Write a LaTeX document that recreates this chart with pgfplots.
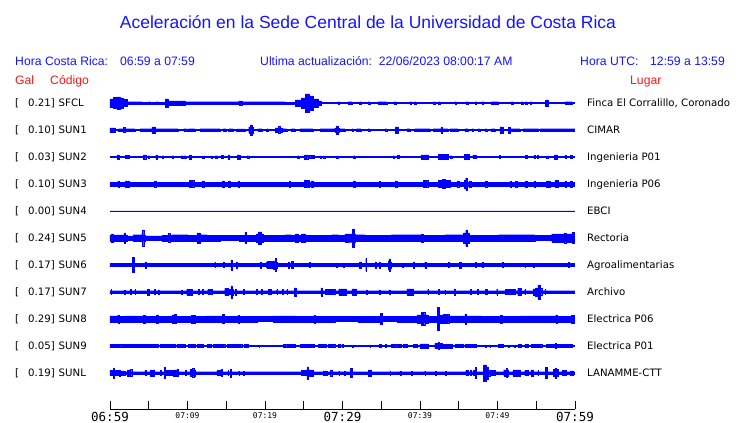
\documentclass[border=0pt]{standalone}
\usepackage{pgfplots}
\pgfplotsset{compat=1.18}
\usepackage{pgfplotstable}
\usepgfplotslibrary{fillbetween}
\usepackage{fontspec}
\setmainfont{Liberation Sans}
\newfontfamily\dejavu{DejaVu Sans}
\newfontfamily\dmono{DejaVu Sans Mono}
\definecolor{tr}{RGB}{0,0,255}
\definecolor{tb}{RGB}{20,20,255}
\definecolor{tred}{RGB}{255,20,20}

% half-amplitude envelopes (px) of each trace, time in minutes after 06:59
\pgfplotstableread{
t a
0 4
0.4 5.5
0.9 6
1.3 5
1.7 3.5
2.2 1.3
4.1 0.9
5.0 1.3
5.2 0.9
6.0 1.3
6.2 0.9
7.1 4
7.5 2.2
9.7 1.3
16.6 2.2
17.0 1.3
22.6 0.9
23.9 3
24.7 5
25.2 9
25.7 7
26.2 4
26.9 2
27.3 0.5
29.4 1.3
29.6 0.5
30.7 1.3
31.2 0.5
32.2 1.3
32.4 0.5
33.3 1.3
33.5 0.5
34.6 1.3
35.7 0.5
36.7 1.3
36.9 0.5
38.7 1.3
38.9 0.5
39.3 1.3
39.5 0.5
41.7 1.3
41.9 0.5
42.4 1.3
42.6 0.5
44.5 1.3
44.7 0.5
46.0 1.3
46.2 0.5
47.1 1.3
47.3 0.5
48.0 1.3
48.2 0.5
49.2 1.3
50.1 0.5
51.8 1.3
52.0 0.5
53.1 1.3
53.3 0.5
53.6 1.3
53.8 0.5
54.2 1.3
54.4 0.5
56.2 3
56.5 0.5
58.7 1.3
59.6 0.5
60 0.5
}\sfcl

\pgfplotstableread{
t a
0 2
0.7 0.4
1.1 1.3
1.7 2.5
1.9 1.3
3.2 0.4
3.9 1.3
5.4 3
5.8 1.3
8.8 0.4
9.5 1.3
9.9 0.4
10.1 1.3
11.0 0.4
11.6 1.3
14.2 0.4
14.6 1.3
15.0 0.4
15.3 1.3
15.9 0.4
16.3 1
17.4 0.4
17.9 3
18.1 5
18.3 3
18.5 0.4
19.1 1.3
19.6 0.4
20.2 1.3
20.4 0.4
21.3 2
21.7 3.5
21.9 2
22.2 1.3
22.8 0.4
23.4 1.3
23.9 0.4
24.5 1.3
26.2 0.4
27.1 1.3
29.0 2
29.2 4
29.4 2
29.5 1.3
30.3 0.4
31.2 1.3
31.4 0.4
31.8 1.3
32.4 0.4
33.3 1.3
33.5 0.4
35.5 1.3
35.7 0.4
36.8 3
37.2 0.4
38.3 1.3
38.7 0.4
39.3 1.3
41.3 0.4
41.7 1.3
42.7 3
42.9 1.3
43.6 0.4
43.9 1.3
44.9 0.4
45.8 1.3
46.2 0.4
46.7 1.3
46.9 0.4
47.5 1.3
47.7 0.4
48.4 1.3
48.6 0.4
49.2 1.3
49.7 0.4
50.3 3
50.7 0.4
51.4 3
51.6 1.3
52.9 0.4
53.3 1.3
55.3 0.4
55.5 1.3
60 1.3
}\sunone

\pgfplotstableread{
t a
0 0.4
0.9 2
1.2 0.4
2.0 1.5
2.5 0.4
4.3 2
4.6 0.4
4.9 1.3
5.1 0.4
5.9 2
6.1 0.4
6.7 1.3
6.9 0.4
8.0 1.3
8.2 0.4
9.2 1.3
9.4 0.4
9.6 1.3
9.8 0.4
10.2 2
10.5 0.4
11.9 1
12.1 0.4
13.0 1
13.2 0.4
13.6 1.3
13.8 0.4
14.4 1.5
14.6 0.4
15.2 2
15.4 0.4
16.4 2.2
16.8 0.4
17.7 1.3
17.9 0.4
24.2 1.3
24.4 0.4
25.1 2.2
25.5 0.4
25.7 1.5
25.9 0.4
26.1 1.5
26.3 0.4
27.1 1
27.3 0.4
27.5 1
27.7 0.4
29.2 1
29.4 0.4
31.4 1.3
31.6 0.4
36.5 1.3
36.7 0.4
37.1 1.5
37.3 0.4
40.1 2
41.1 0.4
42.4 2.5
43.6 0.4
43.9 1.3
44.1 0.4
45.7 2.5
46.4 0.4
46.8 1.5
47.0 0.4
47.1 1.5
47.3 0.4
50.2 1.5
50.4 0.4
53.6 1.5
53.8 0.4
54.7 1.5
54.9 0.4
55.1 1.5
55.3 0.4
56.3 1
56.5 0.4
57.3 2.2
57.7 0.4
58.7 1.5
58.9 0.4
59.4 1.5
59.6 0.4
60 0.4
}\suntwo

\pgfplotstableread{
t a
0 1.8
1.0 3
1.2 1.8
2.0 3
2.2 1.8
2.3 3
2.5 1.8
5.7 3
5.9 1.8
10.2 3.5
10.8 1.8
11.9 3
12.1 1.8
14.5 3
14.7 1.8
15.3 3
15.5 1.8
16.5 3
16.7 1.8
23.1 3
23.3 1.8
25.1 3.5
25.7 1.8
26.0 3.2
26.2 1.8
31.4 3.2
31.6 1.8
34.7 2.8
34.9 1.8
36.8 3
37.1 1.8
40.4 3.5
41.0 1.8
42.4 3.5
42.9 4.5
43.2 3.5
43.9 1.8
44.8 3
45.0 1.8
45.7 4
45.9 6
46.1 1.8
46.4 3
46.6 1.8
48.4 2.8
48.6 1.8
51.6 2.8
51.8 1.8
52.3 2.8
52.5 1.8
53.6 2.8
53.8 1.8
54.7 3
54.9 1.8
56.3 3
56.8 1.8
57.4 3.5
57.8 1.8
58.7 3
58.9 1.8
59.4 3
59.6 1.8
60 1.8
}\sunthree

\pgfplotstableread{
t a
0 0.2
60 0.2
}\sunfour

\pgfplotstableread{
t a
0 3
0.2 4
0.4 3
1.8 5
2.0 3
2.2 2.2
3.0 3.3
4.1 5
4.15 8
4.35 3.3
4.5 2.2
6.7 2.8
7.5 4.5
7.7 2.8
8.0 3.3
10.1 2.8
11.2 5
11.6 3.3
12.5 2.8
14.2 2.4
16.6 2.8
17.4 5.5
17.6 2.8
18.7 2.4
18.9 4
19.1 6
19.5 4
19.8 2.8
22.6 3.3
23.4 2.8
23.9 4
24.3 2.8
24.7 4
25.2 2.8
28.6 3.3
29.5 2.8
30.3 4
31.2 4
31.3 9
31.5 4
31.6 3.3
32.9 2.8
36.3 3.3
40.2 4
40.4 2.8
43.2 3.3
45.6 5
45.9 8
46.1 5
46.4 2.8
50.1 3.3
54.8 2.4
57.0 4
58.6 5
58.8 4
59.6 5.5
60 5.5
}\sunfive

\pgfplotstableread{
t a
0 1.6
2.9 7.5
3.1 1.6
4.5 3
4.7 1.6
13.5 2.5
13.6 1.6
14.6 2.5
14.7 1.6
15.6 5
15.8 1.6
16.3 3
16.4 1.6
19.4 3
19.5 1.6
20.1 2.5
20.3 3.5
21.1 4
21.3 6.5
21.4 3
21.6 1.6
23.0 3
23.1 1.6
23.4 3.5
23.6 1.6
25.7 2.5
25.8 1.6
29.2 2.2
29.3 1.6
30.1 2.2
30.2 1.6
32.2 3
32.4 1.6
33.0 6.5
33.1 1.6
34.2 3
34.3 1.6
34.7 3
34.8 1.6
35.9 4
36.0 6
36.2 3
36.3 1.6
37.7 2.2
37.8 1.6
39.1 3
39.2 1.6
40.6 3
40.8 1.6
43.6 2.5
43.7 1.6
45.1 3
45.3 1.6
47.1 2.5
47.2 1.6
48.0 2.5
48.1 1.6
50.6 2.5
50.7 1.6
53.5 2.2
53.6 1.6
54.6 2.2
54.7 1.6
59.1 2.5
59.2 1.6
60 1.6
}\sunsix

\pgfplotstableread{
t a
0 1.3
0.1 2.5
0.2 1.3
1.8 2.2
1.9 1.3
2.6 2.5
2.7 1.3
3.2 2.5
3.3 1.3
4.8 2.8
5.1 1.3
5.7 2.5
5.8 1.3
6.2 2.2
6.3 1.3
9.2 2.2
9.3 1.3
9.9 2.8
10.6 1.3
11.4 2.5
11.5 1.3
11.9 2.5
12.0 1.3
12.6 2.5
13.2 1.3
14.8 3.5
15.3 2.5
15.6 6
15.8 3
15.9 1.3
16.2 2.8
16.3 1.3
17.2 2.5
17.3 1.3
18.9 2.5
19.0 1.3
19.5 2.5
19.6 1.3
20.4 2.5
20.5 1.3
20.7 2.5
20.8 1.3
21.5 2.5
21.6 1.3
22.2 2.5
22.3 1.3
22.8 2.5
22.9 1.3
23.8 4
24.0 1.3
27.2 4
27.4 1.3
27.8 2.5
29.0 1.3
29.5 3
30.5 1.3
31.2 3
31.8 1.3
33.1 2.2
33.2 1.3
34.7 2.2
34.8 1.3
36.0 2.2
36.1 1.3
38.3 3
39.1 1.3
41.0 2.5
41.1 1.3
42.4 2.5
42.5 1.3
43.2 2.2
43.3 1.3
44.4 3
44.5 1.3
46.5 2.5
46.6 1.3
47.4 2.5
47.5 1.3
48.4 2.5
48.7 1.3
49.9 3
50.0 1.3
51.0 2.5
52.3 1.3
52.6 3.5
53.1 1.3
53.5 2.5
53.6 1.3
54.6 3
54.9 4
55.2 7
55.5 3.5
55.7 1.3
56.1 2.5
56.2 1.3
60 1.3
}\sunseven

\pgfplotstableread{
t a
0 3
1.0 4
1.2 2.8
2.0 3.1
4.3 3.8
4.5 2.8
6.0 4
6.2 2.8
8.0 4
8.3 4.5
8.5 2.8
10.5 3.8
11.0 2.8
12.5 3.1
14.5 4.5
14.7 2.8
16.5 3.8
16.7 2.8
19.0 2.5
21.0 3
24.0 2.8
26.3 3.8
26.5 2.8
29.0 2.5
32.0 2.8
34.9 5.5
35.1 2.5
37.0 2.8
39.6 4
40.2 6.5
40.6 4
41.1 2.8
42.2 11.5
42.5 4
43.0 4.5
43.7 3
45.8 5
46.0 3
48.0 2.8
50.4 3.8
50.6 2.8
53.0 3.1
57.5 4.2
57.7 2.8
59.5 3.8
60 3.8
}\suneight

\pgfplotstableread{
t a
0 1.6
1.5 0.4
1.7 1.6
4.1 0.4
4.3 1.6
6.2 0.4
6.5 1.6
8.4 0.4
8.6 1.6
9.7 0.4
10.1 1.6
11.0 0.4
11.2 1.6
12.0 0.4
12.5 1.6
13.1 0.4
13.3 1.6
14.2 0.4
14.4 1.6
14.8 0.4
15.1 1.6
16.1 0.4
16.3 1.6
17.0 0.4
17.3 1.6
17.8 0.4
19.2 1
19.3 0.4
22.4 1.5
22.8 0.4
23.0 1.6
23.9 0.4
24.5 1.6
26.4 0.4
26.9 1.6
27.9 0.4
28.2 1.6
29.0 0.4
29.4 1.6
29.7 0.4
29.9 1.6
30.1 0.4
31.3 1.2
31.4 0.4
33.5 1.2
33.6 0.4
34.7 1.6
35.0 0.4
35.5 1.5
35.6 0.4
36.3 1.6
37.0 0.4
37.2 1.6
37.6 0.4
37.8 1.6
38.3 0.4
39.1 1.6
39.6 0.4
40.0 2
41.1 0.4
41.9 2.5
42.3 3.5
42.5 2.5
42.8 1.8
44.1 0.4
44.5 1.6
45.6 0.4
45.8 1.6
46.7 0.4
46.9 1.6
47.3 0.4
48.4 1.2
48.5 0.4
49.0 1.2
49.1 0.4
50.1 1.6
50.7 0.4
51.4 1.2
51.5 0.4
52.2 1.2
52.3 0.4
52.7 1.6
53.1 0.4
53.5 1.6
54.0 0.4
54.4 1.6
55.7 0.4
56.3 1.6
57.4 2.5
57.6 1.6
59.6 0.4
60 0.4
}\sunnine

\pgfplotstableread{
t a
0 2.5
0.4 5
0.5 2.5
1.2 3
1.3 2
1.9 1.3
2.2 3
2.6 3.5
2.8 1.3
4.5 2.5
4.6 1.3
5.2 3
5.7 1.3
6.5 2.5
6.6 1.3
7.0 5.5
7.1 1.3
7.3 2.5
8.0 1.3
8.2 3
8.7 3.5
8.8 1.3
9.7 2.5
9.8 1.3
10.4 3.5
10.6 4.5
10.8 3
11.0 1.3
13.8 2.5
14.2 1.3
14.4 3.5
14.5 1.3
15.2 2.5
15.3 1.3
15.5 4
15.6 1.3
16.6 2
16.7 1.3
17.2 2.2
17.3 1.3
24.7 2.5
25.4 6
25.6 3
26.2 1.3
27.5 2.2
28.0 1.3
28.4 3
28.6 1.3
29.5 2
29.6 1.3
30.2 2
30.3 1.3
31.0 4.5
31.2 1.3
33.3 3
33.7 1.3
36.1 2
36.2 1.3
37.4 2
37.5 1.3
38.9 2
39.0 1.3
40.6 2
40.7 1.3
42.0 2
42.1 1.3
43.3 2
43.4 1.3
45.9 2.5
46.2 1.3
46.5 2.5
46.6 1.3
46.9 2.5
47.1 5.5
47.3 1.3
48.2 8
48.5 6
48.8 3
49.0 1.3
49.2 2.5
49.7 1.3
50.8 3
51.1 4.5
51.3 3
51.4 1.3
52.0 3
52.9 1.3
53.5 2.5
54.0 1.3
54.3 3
54.6 1.3
55.2 2.5
55.3 1.3
56.2 5.5
56.4 1.3
57.2 3.5
57.4 5
57.5 3.5
57.8 1.3
58.3 2.5
58.9 1.3
59.4 2
59.8 1.3
60 1.3
}\sunl

\newcommand\trace[3]{%
  \addplot[name path=#1u, const plot, draw=tr, line width=0.2pt] table[x=t, y expr=#2+\thisrow{a}] {#3};
  \addplot[name path=#1l, const plot, draw=tr, line width=0.2pt] table[x=t, y expr=#2-\thisrow{a}] {#3};
  \addplot[fill=tr, draw=none] fill between[of=#1u and #1l];
}

\begin{document}
\begin{tikzpicture}
\begin{axis}[
  at={(0pt,0pt)}, anchor=south west,
  x=7.75pt, y=1pt,
  xmin=0, xmax=60, ymin=0, ymax=320,
  axis x line*=bottom, axis y line=none,
  clip=false,
  xtick={0,5,...,60},
  xticklabels={
    {\dmono\fontsize{12.5}{14}\selectfont 06:59},{},
    {\dmono\fontsize{8}{9}\selectfont 07:09},{},
    {\dmono\fontsize{8}{9}\selectfont 07:19},{},
    {\dmono\fontsize{12.5}{14}\selectfont 07:29},{},
    {\dmono\fontsize{8}{9}\selectfont 07:39},{},
    {\dmono\fontsize{8}{9}\selectfont 07:49},{},
    {\dmono\fontsize{12.5}{14}\selectfont 07:59}},
  tick align=inside,
  major tick length=8pt,
  tick style={black, line width=0.9pt},
  axis line style={black, line width=0.9pt},
  xticklabel style={anchor=north, inner sep=0pt, yshift=-3pt},
  ytick=\empty,
]
\trace{a}{306}{\sfcl}
\trace{b}{279}{\sunone}
\trace{c}{252}{\suntwo}
\trace{d}{225}{\sunthree}
\trace{e}{198}{\sunfour}
\trace{f}{171}{\sunfive}
\trace{g}{144}{\sunsix}
\trace{h}{117}{\sunseven}
\trace{i}{90}{\suneight}
\trace{j}{63}{\sunnine}
\trace{k}{36}{\sunl}
\end{axis}
\begin{scope}[x=1pt, y=-1pt, shift={(-110pt,409pt)}]
  \node[anchor=base, text=tb, inner sep=0pt, font=\fontsize{17.5}{20}\selectfont] at (368,28.5)
    {Aceleración en la Sede Central de la Universidad de Costa Rica};
  \begin{scope}[every node/.style={anchor=base west, inner sep=0pt, font=\fontsize{12.2}{14}\selectfont}]
    \node[text=tb] at (15,66) {Hora Costa Rica:};
    \node[text=tb] at (120,66) {06:59 a 07:59};
    \node[text=tb] at (260,66) {Ultima actualización:\ \ 22/06/2023 08:00:17 AM};
    \node[text=tb] at (580,66) {Hora UTC:};
    \node[text=tb] at (650,66) {12:59 a 13:59};
    \node[text=tred] at (15,85) {Gal};
    \node[text=tred] at (50,85) {Código};
    \node[text=tred] at (630,85) {Lugar};
  \end{scope}
  \foreach \py/\val/\code/\place in {
      103/0.21/SFCL/{Finca El Corralillo, Coronado},
      130/0.10/SUN1/CIMAR,
      157/0.03/SUN2/Ingenieria P01,
      184/0.10/SUN3/Ingenieria P06,
      211/0.00/SUN4/EBCI,
      238/0.24/SUN5/Rectoria,
      265/0.17/SUN6/Agroalimentarias,
      292/0.17/SUN7/Archivo,
      319/0.29/SUN8/Electrica P06,
      346/0.05/SUN9/Electrica P01,
      373/0.19/SUNL/LANAMME-CTT}{
    \node[anchor=base west, inner sep=0pt, font=\dejavu\fontsize{10.2}{12}\selectfont] at (15,\py+3.7) {[};
    \node[anchor=base east, inner sep=0pt, font=\dejavu\fontsize{10.2}{12}\selectfont] at (55,\py+3.7) {\val]};
    \node[anchor=base west, inner sep=0pt, font=\dejavu\fontsize{10.2}{12}\selectfont] at (58.5,\py+3.7) {\code};
    \node[anchor=base west, inner sep=0pt, font=\dejavu\fontsize{10.2}{12}\selectfont] at (587,\py+3.7) {\place};
  }
  \pgfresetboundingbox
  \path[use as bounding box] (0,0) rectangle (740,423);
\end{scope}
\end{tikzpicture}
\end{document}
